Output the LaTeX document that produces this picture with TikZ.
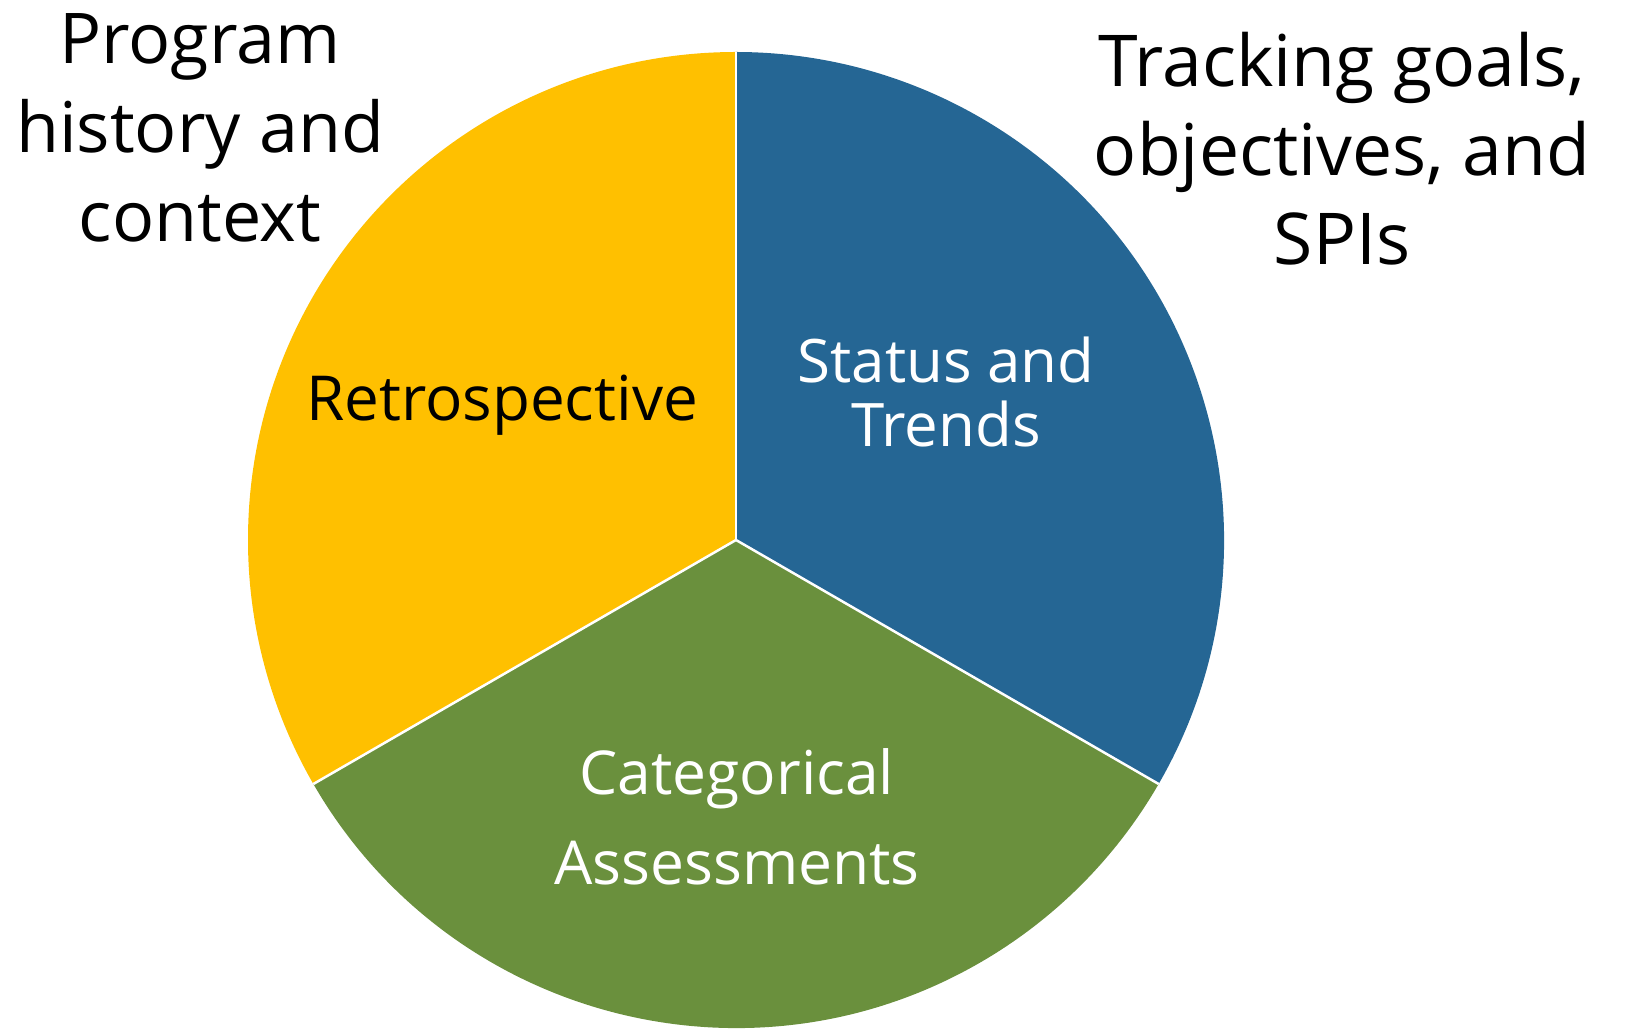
\documentclass[tikz,border=0pt]{standalone}
\usepackage{fontspec}
\setmainfont{Open Sans}
\usetikzlibrary{positioning}
\definecolor{pieyellow}{RGB}{255,192,0}
\definecolor{pieblue}{RGB}{37,102,148}
\definecolor{piegreen}{RGB}{106,144,61}
\tikzset{
	wedge/.style={draw=white, line width=2.5pt, line join=round},
	outer/.style={align=center, anchor=base, inner sep=0pt, text=black},
	inner/.style={align=center, anchor=base, inner sep=0pt}
}

\begin{document}
\begin{tikzpicture}[x=1pt, y=1pt]
	\useasboundingbox (0,0) rectangle (1631,1029);
	\coordinate (c) at (736,489);
	
	% three wedges of the pie
	\fill[pieyellow] (c) -- +(90:488) arc (90:210:488) -- cycle;
	\fill[piegreen] (c) -- +(210:488) arc (210:330:488) -- cycle;
	\fill[pieblue] (c) -- +(330:488) arc (-30:90:488) -- cycle;
	\draw[wedge] (c) -- +(90:488);
	\draw[wedge] (c) -- +(210:488);
	\draw[wedge] (c) -- +(330:488);
	
	% labels inside (anchor = baseline of last line)
	\node(retro) at (502,608) [inner, text=black, font=\fontsize{62}{64}\selectfont] {Retrospective};
	\node(status) at (946,582) [inner, text=white, font=\fontsize{60}{64}\selectfont] {Status and\\Trends};
	\node(categ) at (737,145) [inner, text=white, font=\fontsize{60.5}{90}\selectfont] {Categorical\\Assessments};
	
	% labels outside
	\node(history) at (200,787) [outer, font=\fontsize{70}{89}\selectfont] {Program\\history and\\context};
	\node(tracking) at (1342,764) [outer, font=\fontsize{71.5}{89}\selectfont] {Tracking goals,\\objectives, and\\SPIs};
\end{tikzpicture}
\end{document}
